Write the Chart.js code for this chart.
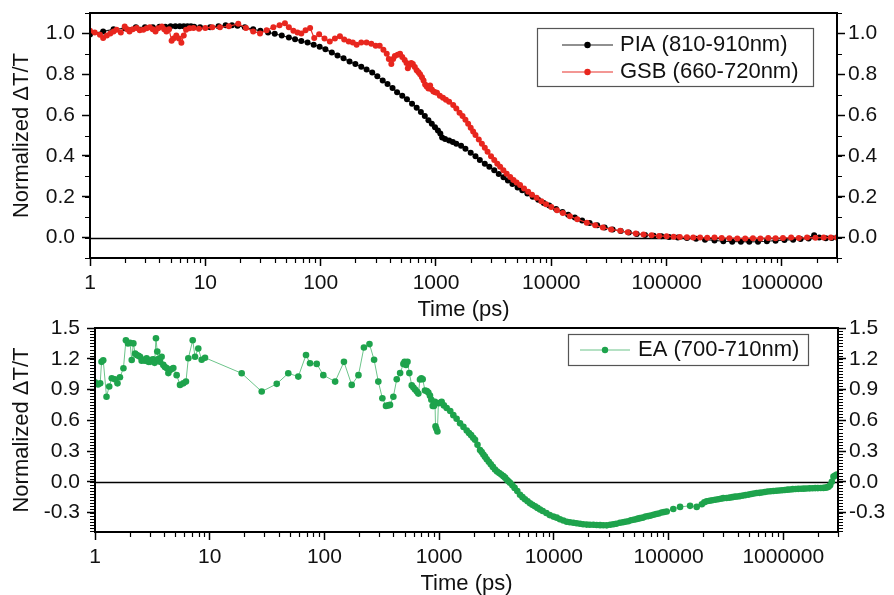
<!DOCTYPE html>
<html>
<head>
<meta charset="utf-8">
<script src="https://cdn.jsdelivr.net/npm/chart.js@4.4.1/dist/chart.umd.min.js"></script>
<style>
  body { margin: 0; background: #fff; }
  #wrap { position: relative; width: 894px; height: 595px; overflow: hidden; }
  canvas { position: absolute; left: 0; }
  #top { top: 0; }
  #bottom { top: 310px; }
</style>
</head>
<body>
<div id="wrap">
  <canvas id="top" width="894" height="323"></canvas>
  <canvas id="bottom" width="894" height="287"></canvas>
</div>
<script>
// ---- data ----
const xTicks = [1, 10, 100, 1000, 10000, 100000, 1000000];
const topYTicks = [0, 0.2, 0.4, 0.6, 0.8, 1.0];
const bottomYTicks = [-0.3, 0, 0.3, 0.6, 0.9, 1.2, 1.5];

// PIA (810-910nm), black
const piaTime = [1, 1.3, 1.6, 2, 2.5, 3, 3.5, 4, 4.5, 5, 5.5, 6, 6.5, 7, 7.5, 8, 9, 11, 13, 15,
  17, 19, 22, 26, 30, 35, 40, 46, 53, 60, 68, 77, 87, 98, 110, 125, 140, 158, 178, 200,
  225, 250, 280, 310, 345, 380, 420, 460, 510, 560, 620, 680, 740, 800, 860, 920, 980, 1040, 1090, 1130,
  1200, 1300, 1400, 1500, 1650, 1800, 2000, 2200, 2400, 2650, 2900, 3200, 3500, 3850, 4200, 4600, 5100, 5600, 6200, 6900,
  7700, 8600, 9600, 11000, 12500, 14000, 16000, 18500, 21500, 25000, 29000, 34000, 40000, 47000, 55000, 65000, 77000, 90000, 105000, 125000,
  150000, 180000, 215000, 260000, 310000, 370000, 440000, 520000, 620000, 740000, 880000, 1050000, 1250000, 1450000, 1700000, 1900000, 2100000, 2400000, 2700000, 3000000];
const piaValue = [0.995, 1.01, 1.02, 1.025, 1.03, 1.03, 1.03, 1.033, 1.033, 1.035, 1.035, 1.035, 1.035, 1.035, 1.035, 1.033, 1.03, 1.03, 1.035, 1.04,
  1.04, 1.038, 1.03, 1.02, 1.013, 1.005, 0.998, 0.99, 0.98, 0.972, 0.963, 0.955, 0.945, 0.935, 0.922, 0.907, 0.892, 0.878, 0.862, 0.85,
  0.837, 0.823, 0.808, 0.79, 0.77, 0.752, 0.733, 0.712, 0.695, 0.678, 0.655, 0.636, 0.615, 0.595, 0.575, 0.557, 0.54, 0.525, 0.51, 0.49,
  0.483, 0.475, 0.468, 0.46, 0.45, 0.435, 0.415, 0.398, 0.38, 0.362, 0.347, 0.33, 0.312, 0.295, 0.28, 0.263, 0.245, 0.232, 0.216, 0.2,
  0.185, 0.17, 0.157, 0.14, 0.125, 0.112, 0.098, 0.084, 0.072, 0.06, 0.05, 0.04, 0.032, 0.025, 0.018, 0.013, 0.009, 0.006, 0.003, 0.001,
  -0.002, -0.006, -0.01, -0.014, -0.018, -0.02, -0.02, -0.021, -0.02, -0.018, -0.015, -0.012, -0.01, -0.007, -0.004, 0.012, 0.0, -0.003, -0.002, 0.0];

// GSB (660-720nm), red
const gsbTime = [1, 1.1, 1.22, 1.3, 1.4, 1.5, 1.6, 1.7, 1.85, 2.0, 2.1, 2.2, 2.35, 2.54, 2.7, 2.9, 3.1, 3.3, 3.5, 3.7,
  3.9, 4.2, 4.4, 4.6, 4.85, 5.1, 5.3, 5.6, 5.9, 6.2, 6.5, 6.8, 7.3, 7.9, 8.8, 10, 11.5, 13.4, 16, 19.3,
  22.5, 26, 29.8, 34, 38.9, 44, 49, 53, 58, 63, 68, 74, 81, 88, 97, 108, 120, 133, 147, 160,
  175, 190, 205, 225, 250, 275, 300, 325, 350, 374, 390, 410, 425, 440, 465, 488, 510, 535, 555, 570,
  590, 610, 630, 655, 680, 705, 728, 755, 780, 805, 830, 860, 890, 920, 950, 985, 1020, 1080, 1150, 1220,
  1300, 1410, 1500, 1600, 1700, 1800, 1900, 2000, 2100, 2200, 2350, 2500, 2650, 2800, 3000, 3200, 3400, 3600, 3840, 4100,
  4400, 4700, 5000, 5360, 5800, 6300, 6800, 7450, 8200, 9000, 10000, 11200, 12600, 14500, 16800, 20300, 24000, 28000, 33000, 39600,
  46000, 54000, 63000, 74000, 86000, 100000, 115000, 130000, 150000, 170000, 195000, 225000, 260000, 300000, 350000, 410000, 480000, 560000, 650000, 760000,
  880000, 1020000, 1200000, 1400000, 1650000, 1950000, 2300000, 2650000, 3000000];
const gsbValue = [1.013, 1.005, 0.994, 0.977, 0.99, 1.0, 1.01, 1.018, 1.005, 1.034, 1.02, 1.01, 1.02, 1.027, 1.015, 1.018, 1.025, 1.03, 1.02, 1.01,
  1.025, 1.034, 1.02, 1.01, 1.02, 0.964, 0.975, 0.99, 0.975, 0.954, 0.99, 1.018, 1.025, 1.027, 1.023, 1.027, 1.03, 1.03, 1.035, 1.047,
  1.027, 1.01, 1.0, 1.015, 1.03, 1.04, 1.05, 1.03, 1.013, 1.005, 1.0, 1.015, 1.027, 0.977, 0.996, 0.975, 0.96, 0.975, 0.986, 0.97,
  0.96, 0.955, 0.945, 0.955, 0.955, 0.95, 0.94, 0.94, 0.92, 0.9, 0.875, 0.85, 0.875, 0.89, 0.895, 0.9, 0.885, 0.87, 0.855, 0.83,
  0.845, 0.855, 0.85, 0.835, 0.82, 0.81, 0.8, 0.785, 0.77, 0.75, 0.74, 0.73, 0.745, 0.725, 0.715, 0.712, 0.71, 0.695, 0.685, 0.675,
  0.665, 0.65, 0.632, 0.612, 0.595, 0.577, 0.558, 0.538, 0.52, 0.502, 0.48, 0.46, 0.44, 0.42, 0.398, 0.38, 0.362, 0.347, 0.33, 0.313,
  0.297, 0.282, 0.27, 0.257, 0.24, 0.224, 0.21, 0.195, 0.178, 0.163, 0.15, 0.134, 0.12, 0.105, 0.09, 0.073, 0.06, 0.049, 0.04, 0.033,
  0.026, 0.02, 0.015, 0.011, 0.008, 0.006, 0.004, 0.003, 0.002, 0.001, 0.0, -0.001, 0.001, -0.002, -0.003, -0.004, -0.005, -0.003, -0.004, -0.002,
  -0.003, -0.002, 0.0, -0.002, 0.0, -0.001, 0.0, 0.001, 0.0];

// EA (700-710nm), green
const eaTime = [1.0, 1.06, 1.11, 1.14, 1.18, 1.26, 1.33, 1.40, 1.49, 1.57, 1.65, 1.77, 1.86, 1.94, 2.02, 2.09, 2.16, 2.24, 2.31, 2.39,
  2.47, 2.55, 2.64, 2.73, 2.82, 2.92, 3.02, 3.12, 3.22, 3.31, 3.40, 3.49, 3.59, 3.69, 3.81, 3.94, 4.07, 4.21, 4.36, 4.51,
  4.66, 4.82, 5.15, 5.51, 5.89, 6.21, 6.51, 7.11, 7.45, 7.95, 8.51, 9.1, 19.0, 28.4, 38.4, 48.4, 59.2, 69.1, 74.9, 85.7,
  97.8, 124, 148, 173, 198, 221, 247, 271, 295, 320, 344, 360, 373, 399, 427, 457, 488, 500, 514, 530,
  550, 577, 597, 617, 640, 659, 681, 700, 719, 753, 780, 805, 832, 855, 879, 900, 920, 930, 945, 966,
  985, 1020, 1052, 1100, 1163, 1250, 1330, 1420, 1522, 1630, 1740, 1820, 1900, 1980, 2055, 2160, 2273, 2350, 2430, 2510,
  2600, 2710, 2820, 2940, 3070, 3200, 3340, 3480, 3630, 3760, 3890, 4020, 4150, 4350, 4550, 4800, 5070, 5330, 5600, 5900,
  6200, 6500, 6850, 7200, 7580, 8000, 8600, 9200, 9910, 10600, 11300, 12100, 12950, 13800, 14800, 15800, 16900, 18000, 19300, 20600,
  22100, 23600, 25300, 27000, 28900, 31000, 33000, 35000, 37700, 40000, 42000, 44500, 47000, 49500, 52000, 54000, 56400, 59500, 63000, 66500,
  70000, 74000, 78000, 82000, 87000, 91500, 96400, 110000, 126000, 154000, 176000, 195000, 205000, 215000, 228000, 240000, 255000, 270000, 285000, 300000,
  320000, 340000, 360000, 380000, 400000, 420000, 445000, 470000, 500000, 527000, 555000, 587000, 620000, 650000, 690000, 730000, 775000, 820000, 870000, 920000,
  975000, 1030000, 1090000, 1146000, 1210000, 1280000, 1350000, 1430000, 1510000, 1600000, 1700000, 1800000, 1900000, 2000000, 2120000, 2240000, 2320000, 2400000, 2480000, 2560000,
  2650000, 2740000, 2830000, 2930000];
const eaValue = [0.97, 0.95, 0.96, 1.17, 1.185, 0.83, 0.93, 1.01, 1.0, 0.96, 1.02, 1.107, 1.38, 1.35, 1.356, 1.188, 1.35, 1.25, 1.237, 1.23,
  1.22, 1.18, 1.19, 1.18, 1.205, 1.17, 1.17, 1.19, 1.195, 1.16, 1.40, 1.27, 1.2, 1.17, 1.22, 1.14, 1.12, 1.11, 1.06, 1.09,
  1.1, 1.11, 1.04, 0.945, 0.96, 0.977, 1.205, 1.38, 1.22, 1.30, 1.19, 1.21, 1.058, 0.88, 0.955, 1.058, 1.026, 1.237, 1.156, 1.15,
  1.04, 0.977, 1.17, 0.945, 1.04, 1.31, 1.343, 1.19, 0.977, 0.815, 0.74, 0.745, 0.75, 0.83, 1.0, 1.06, 1.15, 1.17, 1.14, 1.17,
  1.06, 0.94, 0.92, 0.9, 0.88, 0.86, 0.997, 1.01, 1.0, 0.89, 0.885, 0.87, 0.84, 0.8, 0.74, 0.74, 0.78, 0.54, 0.52, 0.49,
  0.766, 0.77, 0.78, 0.745, 0.72, 0.69, 0.65, 0.615, 0.57, 0.535, 0.5, 0.475, 0.455, 0.43, 0.41, 0.36, 0.31, 0.29, 0.265, 0.245,
  0.22, 0.195, 0.17, 0.145, 0.12, 0.1, 0.085, 0.07, 0.055, 0.04, 0.02, 0.005, -0.01, -0.035, -0.06, -0.09, -0.127, -0.15, -0.17, -0.19,
  -0.21, -0.225, -0.24, -0.255, -0.27, -0.285, -0.305, -0.325, -0.34, -0.35, -0.365, -0.378, -0.39, -0.395, -0.4, -0.405, -0.41, -0.415, -0.418, -0.42,
  -0.42, -0.422, -0.423, -0.424, -0.425, -0.42, -0.415, -0.41, -0.4, -0.395, -0.39, -0.385, -0.375, -0.37, -0.365, -0.36, -0.355, -0.35, -0.34, -0.335,
  -0.33, -0.322, -0.315, -0.31, -0.3, -0.295, -0.29, -0.265, -0.245, -0.235, -0.245, -0.22, -0.2, -0.19, -0.185, -0.18, -0.175, -0.17, -0.165, -0.16,
  -0.158, -0.155, -0.15, -0.145, -0.143, -0.14, -0.135, -0.13, -0.125, -0.12, -0.115, -0.11, -0.108, -0.105, -0.1, -0.095, -0.093, -0.09, -0.088, -0.085,
  -0.083, -0.08, -0.077, -0.075, -0.072, -0.07, -0.069, -0.068, -0.067, -0.066, -0.064, -0.063, -0.062, -0.062, -0.061, -0.06, -0.058, -0.055, -0.048, -0.035,
  0.0, 0.05, 0.06, 0.07];

// ---- chart setup ----
const FONT = '"Liberation Sans", Arial, Helvetica, sans-serif';
Chart.defaults.font.family = FONT;
Chart.defaults.font.size = 21;
Chart.defaults.color = '#111';

const pts = (t, v) => t.map((x, i) => ({ x: x, y: v[i] }));

// zero line, frame, minor ticks and the boxed legend
const axisExtras = {
  id: 'axisExtras',
  beforeDatasetsDraw(chart) {
    const { ctx, chartArea: a, scales: { y } } = chart;
    const y0 = Math.round(y.getPixelForValue(0)) + 0.5;
    ctx.save();
    ctx.strokeStyle = '#000';
    ctx.lineWidth = 1.6;
    ctx.beginPath();
    ctx.moveTo(a.left, y0);
    ctx.lineTo(a.right, y0);
    ctx.stroke();
    ctx.restore();
  },
  afterDraw(chart, args, opts) {
    const { ctx, chartArea: a, scales: { x, y } } = chart;
    ctx.save();
    ctx.strokeStyle = '#000';
    ctx.lineWidth = 2;
    ctx.strokeRect(a.left, a.top, a.right - a.left, a.bottom - a.top);

    // minor ticks
    ctx.lineWidth = 1.2;
    ctx.beginPath();
    for (let p = 0; p <= 6; p++) {
      for (let k = 2; k <= 9; k++) {
        const v = k * Math.pow(10, p);
        if (v > x.max) continue;
        const px = Math.round(x.getPixelForValue(v)) + 0.5;
        ctx.moveTo(px, a.bottom);
        ctx.lineTo(px, a.bottom + opts.minorLen);
      }
    }
    const step = opts.yMinorStep;
    for (let k = Math.ceil(y.min / step - 1e-6); k <= Math.floor(y.max / step + 1e-6); k++) {
      const py = Math.round(y.getPixelForValue(k * step)) + 0.5;
      ctx.moveTo(a.left - opts.minorLen, py);
      ctx.lineTo(a.left, py);
      ctx.moveTo(a.right, py);
      ctx.lineTo(a.right + opts.minorLen, py);
    }
    ctx.stroke();

    // legend box
    const lg = opts.legend;
    ctx.fillStyle = '#fff';
    ctx.fillRect(lg.x, lg.y, lg.w, lg.h);
    ctx.strokeStyle = '#555';
    ctx.lineWidth = 1.2;
    ctx.strokeRect(lg.x + 0.5, lg.y + 0.5, lg.w, lg.h);
    ctx.font = '22px ' + FONT;
    ctx.textBaseline = 'middle';
    chart.data.datasets.forEach((ds, i) => {
      const cy = lg.y + lg.first + i * lg.rowH;
      ctx.strokeStyle = ds.borderColor;
      ctx.lineWidth = 1.2;
      ctx.beginPath();
      ctx.moveTo(lg.x + lg.lineStart, cy);
      ctx.lineTo(lg.x + lg.lineEnd, cy);
      ctx.stroke();
      ctx.fillStyle = ds.pointBackgroundColor;
      ctx.beginPath();
      ctx.arc(lg.x + (lg.lineStart + lg.lineEnd) / 2, cy, 3.2, 0, Math.PI * 2);
      ctx.fill();
      ctx.fillStyle = '#111';
      ctx.fillText(ds.label, lg.x + lg.textX, cy);
    });
    ctx.restore();
  }
};

function makeScales(o) {
  const tickFmt = v => Number(v).toFixed(1);
  const yCommon = {
    type: 'linear',
    min: o.yMin,
    max: o.yMax,
    afterBuildTicks: s => { s.ticks = o.yTicks.map(v => ({ value: v })); },
    grid: { drawOnChartArea: false, tickLength: 8, tickWidth: 1.5, tickColor: '#000' },
    border: { color: '#000', width: 2 }
  };
  return {
    x: {
      type: 'logarithmic',
      min: 1,
      max: 3000000,
      afterBuildTicks: s => { s.ticks = xTicks.map(v => ({ value: v })); },
      afterFit: s => { s.height = o.xHeight; s.paddingLeft = 0; s.paddingRight = 0; },
      ticks: { callback: v => String(v), padding: o.xPad, maxRotation: 0, autoSkip: false },
      grid: { drawOnChartArea: false, tickLength: 8, tickWidth: 1.5, tickColor: '#000' },
      border: { color: '#000', width: 2 },
      title: { display: true, text: 'Time (ps)', font: { size: 22 }, padding: { top: 0, bottom: 0 } }
    },
    y: Object.assign({}, yCommon, {
      position: 'left',
      afterFit: s => { s.width = o.left; s.paddingTop = 0; s.paddingBottom = 0; },
      ticks: { callback: tickFmt, padding: 7 },
      title: { display: true, text: 'Normalized \u0394T/T', font: { size: 22 }, padding: { top: 9, bottom: 0 } }
    }),
    y2: Object.assign({}, yCommon, {
      position: 'right',
      afterFit: s => { s.width = o.right; s.paddingTop = 0; s.paddingBottom = 0; },
      ticks: { callback: tickFmt, padding: 3 }
    })
  };
}

const common = {
  responsive: false,
  animation: false,
  events: [],
  devicePixelRatio: 1,
  plugins: { legend: { display: false }, tooltip: { enabled: false } }
};

new Chart(document.getElementById('top'), {
  type: 'scatter',
  data: {
    datasets: [
      {
        label: 'PIA (810-910nm)',
        data: pts(piaTime, piaValue),
        showLine: true,
        borderColor: '#222',
        borderWidth: 1.2,
        pointRadius: 3,
        pointBorderWidth: 0,
        pointBackgroundColor: '#000',
        order: 2
      },
      {
        label: 'GSB (660-720nm)',
        data: pts(gsbTime, gsbValue),
        showLine: true,
        borderColor: '#e8312a',
        borderWidth: 1.2,
        pointRadius: 3,
        pointBorderWidth: 0,
        pointBackgroundColor: '#e8261e',
        order: 1
      }
    ]
  },
  options: Object.assign({}, common, {
    layout: { padding: { top: 13, left: 0, right: 0, bottom: 0 } },
    scales: makeScales({ yMin: -0.1, yMax: 1.1, yTicks: topYTicks, left: 90, right: 57, xHeight: 65, xPad: 5 }),
    plugins: Object.assign({}, common.plugins, {
      axisExtras: {
        minorLen: 5,
        yMinorStep: 0.1,
        legend: { x: 537, y: 28, w: 276, h: 58, first: 17, rowH: 27, lineStart: 25, lineEnd: 76, textX: 83 }
      }
    })
  }),
  plugins: [axisExtras]
});

new Chart(document.getElementById('bottom'), {
  type: 'scatter',
  data: {
    datasets: [
      {
        label: 'EA (700-710nm)',
        data: pts(eaTime, eaValue),
        showLine: true,
        borderColor: '#6cc48a',
        borderWidth: 1,
        pointRadius: 3.3,
        pointBorderWidth: 0,
        pointBackgroundColor: '#1ea34c'
      }
    ]
  },
  options: Object.assign({}, common, {
    layout: { padding: { top: 18, left: 0, right: 0, bottom: 0 } },
    scales: makeScales({ yMin: -0.49, yMax: 1.5, yTicks: bottomYTicks, left: 95, right: 56, xHeight: 65, xPad: 5 }),
    plugins: Object.assign({}, common.plugins, {
      axisExtras: {
        minorLen: 5,
        yMinorStep: 0.03,
        legend: { x: 568, y: 24, w: 240, h: 31, first: 16, rowH: 27, lineStart: 12, lineEnd: 62, textX: 70 }
      }
    })
  }),
  plugins: [axisExtras]
});
</script>
</body>
</html>
